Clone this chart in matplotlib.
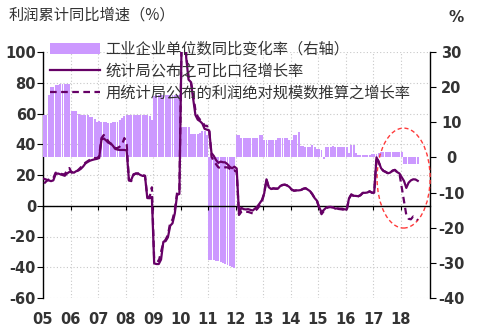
import numpy as np
import matplotlib
matplotlib.use("Agg")
import matplotlib.pyplot as plt
from matplotlib.patches import Ellipse

# monthly values, Jan..Dec per year (2018 ends in Aug)
bar_2005 = [12.0, 12.0, 17.7, 20.0, 20.0, 20.7, 20.7, 20.8, 21.0, 21.0, 21.0, 21.0]
bar_2006 = [13.3, 13.3, 13.3, 12.4, 12.2, 12.2, 12.2, 12.0, 11.5, 11.5, 11.0, 10.1]
bar_2007 = [10.3, 10.1, 10.0, 10.0, 9.9, 9.9, 10.0, 10.0, 10.2, 10.6, 11.1, 11.8]
bar_2008 = [12.0, 12.1, 12.1, 12.1, 12.1, 12.1, 12.0, 12.0, 12.0, 12.0, 11.8, 10.6]
bar_2009 = [17.6, 17.7, 17.7, 17.7, 17.7, 17.7, 17.7, 17.7, 17.7, 17.7, 17.7, 17.7]
bar_2010 = [8.6, 8.6, 8.6, 8.6, 6.6, 6.6, 6.6, 6.6, 7.0, 7.6, 7.6, 6.3]
bar_2011 = [-29.3, -29.3, -29.3, -29.4, -29.6, -29.8, -30.0, -30.2, -30.6, -31.0, -31.3, -31.5]
bar_2012 = [6.3, 6.3, 5.6, 5.6, 5.6, 5.6, 5.6, 5.6, 5.6, 5.6, 6.3, 6.3]
bar_2013 = [5.1, 5.1, 5.1, 5.1, 5.1, 5.1, 5.5, 5.5, 5.5, 5.5, 5.5, 5.1]
bar_2014 = [5.1, 6.3, 6.3, 7.1, 3.2, 3.2, 3.1, 3.1, 3.1, 3.6, 3.1, 2.5]
bar_2015 = [2.5, 2.0, -0.5, 3.1, 3.1, 3.1, 3.2, 3.1, 3.1, 3.0, 3.1, 3.1]
bar_2016 = [3.1, 1.2, 3.6, 3.6, 1.2, 0.8, 0.6, 0.6, 0.6, 0.6, 0.8, 0.9]
bar_2017 = [1.1, 1.1, 1.3, 1.5, 1.5, 1.5, 1.5, 1.5, 1.5, 1.5, 1.5, 1.5]
bar_2018 = [1.5, -2.0, -2.0, -2.0, -2.0, -2.0, -2.0, -2.0]

comp_2005 = [17.5, 17.0, 16.5, 16.0, 16.5, 20.5, 21.0, 20.5, 20.0, 19.5, 21.0, 22.0]
comp_2006 = [22.0, 21.5, 22.5, 23.0, 24.0, 25.5, 27.5, 28.5, 29.3, 29.8, 30.2, 30.5]
comp_2007 = [31.0, 43.0, 43.8, 42.5, 41.0, 40.7, 39.0, 37.0, 36.5, 36.3, 36.3, 36.3]
comp_2008 = [36.0, 16.5, 16.9, 20.5, 20.9, 20.9, 20.0, 19.4, 19.4, 5.0, 4.9, 5.5]
comp_2009 = [-37.5, -37.9, -37.9, -35.0, -23.5, -23.0, -20.5, -13.0, -11.4, -5.0, 7.0, 7.7]
comp_2010 = [110.0, 119.0, 96.0, 82.0, 80.5, 70.0, 59.0, 56.0, 55.0, 53.5, 50.0, 49.5]
comp_2011 = [49.0, 34.3, 32.4, 29.7, 27.9, 28.7, 28.3, 28.2, 27.0, 25.3, 24.4, 25.4]
comp_2012 = [24.3, -5.2, -1.3, -2.2, -2.4, -2.2, -2.7, -3.1, -1.8, -0.5, 1.5, 3.7]
comp_2013 = [8.0, 17.2, 12.1, 10.9, 11.3, 11.1, 11.1, 12.8, 13.5, 13.7, 13.2, 12.2]
comp_2014 = [10.5, 9.8, 10.0, 10.0, 10.2, 11.0, 11.4, 10.5, 9.5, 7.5, 5.0, 3.3]
comp_2015 = [-1.0, -4.2, -2.7, -1.3, -0.8, -0.7, -1.0, -1.9, -1.7, -1.9, -1.9, -2.3]
comp_2016 = [-2.5, 4.8, 7.4, 6.5, 6.4, 6.2, 6.9, 8.4, 8.4, 8.6, 9.4, 8.5]
comp_2017 = [8.5, 31.5, 28.3, 24.4, 22.7, 22.0, 21.1, 21.6, 22.8, 23.3, 21.9, 21.0]
comp_2018 = [18.5, 16.1, 11.6, 15.0, 16.5, 17.2, 17.1, 16.2]

abs_2005 = [14.5, 16.0, 17.0, 17.5, 18.0, 21.5, 21.0, 21.0, 20.5, 20.5, 23.0, 24.5]
abs_2006 = [21.5, 21.5, 22.0, 23.5, 25.0, 26.5, 28.0, 29.0, 30.0, 30.5, 31.0, 31.0]
abs_2007 = [32.0, 44.0, 46.0, 44.0, 42.0, 40.0, 38.5, 37.5, 37.5, 38.5, 40.0, 44.0]
abs_2008 = [40.0, 16.5, 16.0, 20.0, 21.0, 21.0, 20.5, 20.0, 19.5, 6.0, 5.5, 12.0]
abs_2009 = [-35.0, -35.5, -36.0, -30.0, -24.0, -22.0, -19.0, -11.0, -9.0, -3.0, 8.5, 9.0]
abs_2010 = [112.0, 121.0, 98.0, 84.0, 81.0, 73.0, 62.0, 58.0, 56.0, 55.0, 52.0, 52.0]
abs_2011 = [50.0, 32.0, 29.0, 27.0, 25.0, 24.5, 24.5, 25.0, 25.0, 24.0, 22.5, 23.0]
abs_2012 = [22.0, -6.0, -4.0, -3.5, -4.0, -4.0, -4.5, -5.0, -3.5, -2.0, 0.0, 2.5]
abs_2013 = [8.0, 17.0, 12.0, 10.8, 11.3, 11.1, 11.2, 12.8, 13.5, 13.7, 13.2, 12.2]
abs_2014 = [10.5, 9.8, 10.0, 10.0, 10.2, 11.0, 11.4, 10.5, 9.5, 7.5, 5.0, 3.3]
abs_2015 = [-1.5, -5.5, -3.5, -1.8, -1.0, -0.9, -1.2, -2.2, -2.0, -2.2, -2.4, -2.8]
abs_2016 = [-3.0, 4.5, 7.2, 6.4, 6.3, 6.1, 6.8, 8.3, 8.4, 8.6, 9.3, 8.5]
abs_2017 = [8.5, 31.5, 28.3, 24.4, 22.7, 22.0, 21.1, 21.6, 22.8, 23.3, 21.9, 21.0]
abs_2018 = [12.0, 3.0, -6.0, -8.5, -8.8, -7.0, -8.0, -9.4]

years = list(range(2005, 2019))
year_labels = [f"{y % 100:02d}" for y in years]

bar_label = "工业企业单位数同比变化率（右轴）"
comp_label = "统计局公布之可比口径增长率"
abs_label = "用统计局公布的利润绝对规模数推算之增长率"

bars = np.concatenate([bar_2005, bar_2006, bar_2007, bar_2008, bar_2009, bar_2010, bar_2011,
                       bar_2012, bar_2013, bar_2014, bar_2015, bar_2016, bar_2017, bar_2018])
comp = np.concatenate([comp_2005, comp_2006, comp_2007, comp_2008, comp_2009, comp_2010, comp_2011,
                       comp_2012, comp_2013, comp_2014, comp_2015, comp_2016, comp_2017, comp_2018])
absg = np.concatenate([abs_2005, abs_2006, abs_2007, abs_2008, abs_2009, abs_2010, abs_2011,
                       abs_2012, abs_2013, abs_2014, abs_2015, abs_2016, abs_2017, abs_2018])
t = 2005 + (np.arange(len(bars)) + 0.5) / 12

plt.rcParams["font.family"] = ["Noto Sans CJK SC", "DejaVu Sans"]
plt.rcParams["axes.unicode_minus"] = False

PURPLE = "#660066"
BAR = "#CC99FF"
TXT = "#333333"

fig = plt.figure(figsize=(4.8, 3.3), dpi=100)
ax = fig.add_axes([43 / 480, 32 / 330, 387 / 480, 246 / 330])
ax2 = ax.twinx()
ax3 = ax.twinx()
ax.set_zorder(1)
ax2.set_zorder(2)
ax3.set_zorder(3)
ax2.patch.set_visible(False)
ax3.patch.set_visible(False)

# base axes: left scale, grid
ax.set_xlim(2005, 2019.07)
ax.set_ylim(-60, 100)
ax.set_yticks(range(-60, 101, 20))
ax.set_xticks(years)
ax.set_xticklabels(year_labels)
ax.grid(True, color="#C8C8C8", linestyle=(0, (1, 2)), linewidth=0.8)
for s in ["top", "bottom", "right"]:
    ax.spines[s].set_visible(False)
ax.spines["left"].set_linewidth(1.0)
ax.tick_params(axis="x", length=0, pad=10, labelsize=10.5, colors=TXT)
ax.tick_params(axis="y", length=4, pad=1, labelsize=10.5, colors=TXT)
ax.tick_params(axis="y", color="black")

# bars on the right scale
ax2.bar(t, bars, width=0.85 / 12, color=BAR, linewidth=0)
ax2.set_ylim(-40, 30)
ax2.set_yticks(range(-40, 31, 10))
for s in ["top", "bottom", "left"]:
    ax2.spines[s].set_visible(False)
ax2.spines["right"].set_linewidth(1.0)
ax2.tick_params(axis="y", length=4, pad=11.5, labelsize=10.5, colors=TXT)
ax2.tick_params(axis="y", color="black")
for lab in ax2.get_yticklabels():
    lab.set_horizontalalignment("center")

for lab in ax.get_xticklabels() + ax.get_yticklabels() + ax2.get_yticklabels():
    lab.set_fontfamily("DejaVu Sans")
    lab.set_fontweight("bold")

# lines on the left scale
ax3.set_ylim(-60, 100)
ax3.yaxis.set_visible(False)
for s in ax3.spines.values():
    s.set_visible(False)
zero = ax3.secondary_xaxis(0, transform=ax3.transData)
zero.set_xticks(years)
zero.tick_params(length=3, labelbottom=False, color="black")
zero.spines["bottom"].set_linewidth(1.0)

l1, = ax3.plot(t, comp, color=PURPLE, lw=1.6, label=comp_label)
l2, = ax3.plot(t, absg, color=PURPLE, lw=1.6, ls=(0, (3, 2)), label=abs_label)
ax3.add_patch(Ellipse((2018.11, 18), 1.93, 65, fill=False, ec="#FF3B3B",
                      ls=(0, (3, 2)), lw=1.0, clip_on=False))

b = ax2.patches[0]
ax3.legend([b, l1, l2], [bar_label, comp_label, abs_label], loc="upper left",
           bbox_to_anchor=(0.018, 1.045), frameon=False, fontsize=11,
           handlelength=3.3, handletextpad=0.35, labelspacing=0.3,
           borderpad=0, borderaxespad=0, labelcolor=TXT)

fig.text(0.017, 0.955, "利润累计同比增速（%）", fontsize=11, color=TXT, va="center")
fig.text(0.95, 0.948, "%", fontsize=11, color=TXT, va="center", ha="center",
         fontweight="bold", family="DejaVu Sans")

fig.savefig("out.png", dpi=100)
